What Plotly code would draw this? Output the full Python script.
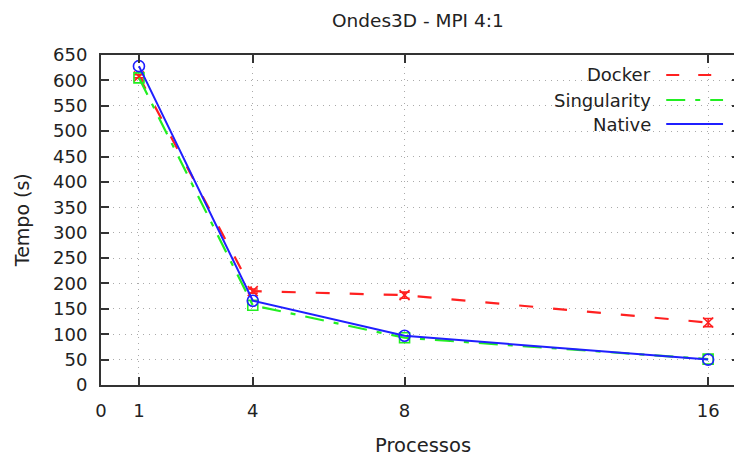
import plotly.graph_objects as go

processos = [1, 4, 8, 16]
docker = [608, 185, 177, 123]
docker_err = [3, 4, 6, 8]
singularity = [605, 157, 93, 51]
native = [628, 166, 97, 50]
x_ticks = [0, 1, 4, 8, 16]
y_ticks = list(range(0, 651, 50))

OFF = 8  # default page body margin
W, H = 742 - OFF, 461 - OFF
L, R, T = 101 - OFF, 0, 55 - OFF
B = H - (385 - OFF)
FONT = "DejaVu Sans, Liberation Sans, Arial, sans-serif"
TXT = "#222222"

def px_x(p):
    return (p - OFF - L) / (W - L - R)

def px_y(p):
    return (H - B - (p - OFF)) / (H - T - B)

fig = go.Figure()
fig.add_trace(go.Scatter(
    x=processos, y=docker, mode="lines+markers", name="Docker",
    line=dict(color="#ff2020", width=2.2, dash="14px,20px"),
    marker=dict(symbol="x-thin-open", size=10, line=dict(color="#ff2020", width=1.6)),
    error_y=dict(type="data", array=docker_err, color="#ff2020", thickness=1.6, width=5),
))
fig.add_trace(go.Scatter(
    x=processos, y=singularity, mode="lines+markers", name="Singularity",
    line=dict(color="#22ee22", width=2.2, dash="19px,10px,5px,10px"),
    marker=dict(symbol="square-open", size=10, line=dict(color="#22ee22", width=1.6)),
))
fig.add_trace(go.Scatter(
    x=processos, y=native, mode="lines+markers", name="Native",
    line=dict(color="#1f1fff", width=2),
    marker=dict(symbol="circle-open", size=11, line=dict(color="#1f1fff", width=1.6)),
))

legend_items = [("Docker", "#ff2020", "13px,19px", 75),
                ("Singularity", "#22ee22", "19px,10px,5px,10px", 100),
                ("Native", "#1f1fff", "solid", 124)]
shapes = []
annotations = []
for name, col, dash, yp in legend_items:
    annotations.append(dict(text=name, xref="paper", yref="paper", x=px_x(655), y=px_y(yp),
                            xanchor="right", yanchor="middle", showarrow=False,
                            font=dict(family=FONT, size=18, color=TXT)))
    shapes.append(dict(type="line", xref="paper", yref="paper",
                       x0=px_x(668), x1=px_x(725), y0=px_y(yp), y1=px_y(yp),
                       line=dict(color=col, width=2.2, dash=dash)))

annotations.append(dict(text="Tempo (s)", xref="paper", yref="paper", x=px_x(22), y=px_y(220),
                        textangle=-90, xanchor="center", yanchor="middle", showarrow=False,
                        font=dict(family=FONT, size=19, color=TXT)))
annotations.append(dict(text="Processos", xref="paper", yref="paper", x=px_x(424), y=px_y(445),
                        xanchor="center", yanchor="middle", showarrow=False,
                        font=dict(family=FONT, size=19.5, color=TXT)))
annotations.append(dict(text="Ondes3D - MPI 4:1", xref="paper", yref="paper", x=px_x(419), y=px_y(20),
                        xanchor="center", yanchor="middle", showarrow=False,
                        font=dict(family=FONT, size=18.5, color=TXT)))

fig.update_layout(
    width=W, height=H,
    margin=dict(l=L, r=R, t=T, b=B, pad=0),
    paper_bgcolor="white", plot_bgcolor="white",
    showlegend=False,
    shapes=shapes, annotations=annotations,
    font=dict(family=FONT, size=18, color=TXT),
)
fig.update_xaxes(
    range=[0, 16.84], tickmode="array", tickvals=x_ticks, ticktext=[str(v) for v in x_ticks],
    showline=True, linecolor="#333333", linewidth=2, mirror="ticks",
    ticks="inside", ticklen=8, tickcolor="#333333", tickwidth=1.5,
    showgrid=True, gridcolor="#aaaaaa", griddash="1px,5px", gridwidth=1,
    zeroline=False, ticklabelstandoff=8,
)
fig.update_yaxes(
    range=[0, 650], tickmode="array", tickvals=y_ticks,
    showline=True, linecolor="#333333", linewidth=2, mirror="ticks",
    ticks="inside", ticklen=8, tickcolor="#333333", tickwidth=1.5,
    showgrid=True, gridcolor="#aaaaaa", griddash="1px,5px", gridwidth=1,
    zeroline=False, ticklabelstandoff=8,
)

fig.write_html("out.html")
